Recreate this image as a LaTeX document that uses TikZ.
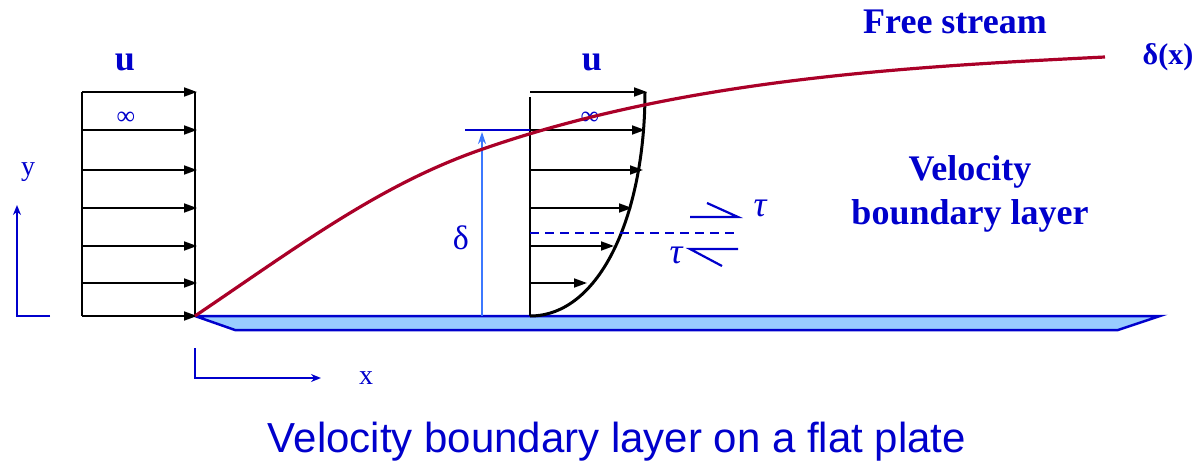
\documentclass[tikz,border=0pt]{standalone}
\usepackage{fontspec}
\setmainfont{Liberation Serif}
\newfontfamily\capfont{Liberation Sans}
\usetikzlibrary{arrows.meta}
\definecolor{txtblue}{RGB}{0,0,204}
\definecolor{layerred}{RGB}{170,0,40}
\definecolor{platefill}{RGB}{153,204,255}
\definecolor{deltablue}{RGB}{60,120,255}

\begin{document}
\begin{tikzpicture}[x=1pt,y=-1pt,
  vel/.style={line width=1.8pt,-{Triangle[length=13pt,width=9pt]}},
  lbl/.style={text=txtblue,font=\fontsize{36}{40}\selectfont\bfseries},
  sym/.style={text=txtblue,font=\fontsize{30}{34}\selectfont}]
  \useasboundingbox (0,0) rectangle (1195,468);
  % plate
  \draw[line width=2.5pt,draw=txtblue,fill=platefill] (195,316) -- (1160,316) -- (1118,330) -- (235,330) -- cycle;
  % uniform profile
  \draw[line width=2pt] (82,92) -- (82,316);
  \draw[line width=2pt] (195,92) -- (195,316);
  \foreach \y in {92,130,170,208,246,283,316}
    \draw[vel] (82,\y) -- (197,\y);
  \node[lbl] (uleft) at (125,62) {u};
  \node[sym,font=\fontsize{26}{30}\selectfont] (infleft) at (126,118) {∞};
  % boundary layer profile
  \draw[line width=2pt] (530,97) -- (530,316);
  \draw[line width=3pt] (530,316) .. controls (600,316) and (645,215) .. (645,92);
  \foreach \y/\x in {92/647,130/645,170/643,208/632,246/614,283/587}
    \draw[vel] (530,\y) -- (\x,\y);
  \node[lbl] (uright) at (592,62) {u};
  \node[sym,font=\fontsize{26}{30}\selectfont] (infright) at (590,118) {∞};
  % thickness
  \draw[deltablue,line width=1.6pt,-{Stealth[length=12pt,width=8pt]}] (482,316) -- (482,132);
  \draw[txtblue,line width=2pt] (465,130) -- (530,130);
  \node[sym,font=\fontsize{34}{38}\selectfont] (delta) at (461,238) {δ};
  % edge of the layer
  \draw[layerred,line width=3.2pt] (195,316) .. controls (300,245) and (380,185) .. (480,150)
    .. controls (680,80) and (900,67) .. (1105,57);
  \node[lbl,font=\fontsize{30}{34}\selectfont\bfseries] (deltax) at (1168,57) {δ(x)};
  % shear
  \draw[txtblue,line width=1.5pt,dash pattern=on 9pt off 6pt] (530,233) -- (738,233);
  \draw[txtblue,line width=2.2pt] (690,217) -- (738,217) -- (707,203);
  \draw[txtblue,line width=2.2pt] (738,249) -- (690,249) -- (722,266);
  \node[sym,font=\fontsize{36}{40}\selectfont\itshape] (tauup) at (760,208) {τ};
  \node[sym,font=\fontsize{36}{40}\selectfont\itshape] (taulow) at (676,255) {τ};
  % axes
  \draw[txtblue,line width=1.8pt,-{Stealth[length=10pt,width=8pt]}] (50,316) -- (17,316) -- (17,205);
  \draw[txtblue,line width=1.8pt,-{Stealth[length=10pt,width=8pt]}] (195,348) -- (195,378) -- (321,378);
  \node[sym,font=\fontsize{28}{32}\selectfont] (ylab) at (28,172) {y};
  \node[sym,font=\fontsize{28}{32}\selectfont] (xlab) at (366,378) {x};
  % labels
  \node[lbl] (free) at (955,22) {Free stream};
  \node[lbl] (vel1) at (970,172) {Velocity};
  \node[lbl] (vel2) at (970,216) {boundary layer};
  \node[text=txtblue,font=\capfont\fontsize{42}{46}\selectfont] (caption) at (617,442) {Velocity boundary layer on a flat plate};
\end{tikzpicture}
\end{document}
